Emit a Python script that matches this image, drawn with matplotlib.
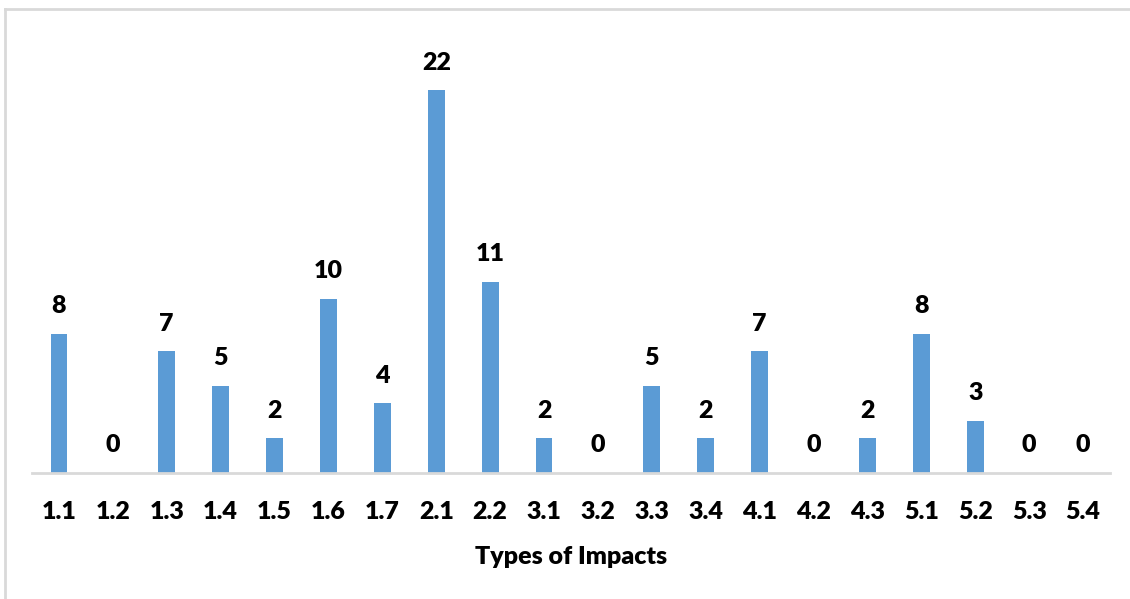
import numpy as np
import matplotlib
matplotlib.use('Agg')
import matplotlib.pyplot as plt
from matplotlib.lines import Line2D

# dados
categories = ['1.1', '1.2', '1.3', '1.4', '1.5', '1.6', '1.7', '2.1', '2.2', '3.1',
              '3.2', '3.3', '3.4', '4.1', '4.2', '4.3', '5.1', '5.2', '5.3', '5.4']
counts = [8, 0, 7, 5, 2, 10, 4, 22, 11, 2, 0, 5, 2, 7, 0, 2, 8, 3, 0, 0]

BAR_COLOR = '#5B9BD5'
GRID_GRAY = '#D9D9D9'
FONT = ['Lato', 'DejaVu Sans']
WEIGHT = 'heavy'

plt.rcParams['font.family'] = FONT

fig = plt.figure(figsize=(11.3, 5.99), dpi=100)
ax = fig.add_axes([32 / 1130, 126 / 599, 1078 / 1130, 435 / 599])

x = np.arange(len(categories))
bars = ax.bar(x, counts, width=0.31, color=BAR_COLOR)

ax.set_xlim(-0.5, len(categories) - 0.5)
ax.set_ylim(0, 25)
ax.set_xticks(x)
ax.set_xticklabels(categories, fontsize=18, fontweight=WEIGHT)
ax.tick_params(axis='x', length=0, pad=20)
ax.set_yticks([])

for side in ['top', 'right', 'left']:
    ax.spines[side].set_visible(False)
ax.spines['bottom'].set_color(GRID_GRAY)
ax.spines['bottom'].set_linewidth(2)

# rótulos de valor acima das barras
for xi, v in zip(x, counts):
    ax.annotate(str(v), (xi, v), xytext=(0, 12), textcoords='offset points',
                ha='center', va='bottom', fontsize=18, fontweight=WEIGHT)

ax.set_xlabel('Types of Impacts', fontsize=18, fontweight=WEIGHT, labelpad=17)

# borda cinza (só topo e esquerda visíveis no recorte)
fig.add_artist(Line2D([5 / 1130, 1.0], [1 - 9 / 599, 1 - 9 / 599],
                      transform=fig.transFigure, color=GRID_GRAY, lw=2))
fig.add_artist(Line2D([5 / 1130, 5 / 1130], [0, 1 - 9 / 599],
                      transform=fig.transFigure, color=GRID_GRAY, lw=2))

fig.savefig('out.png', dpi=100)
